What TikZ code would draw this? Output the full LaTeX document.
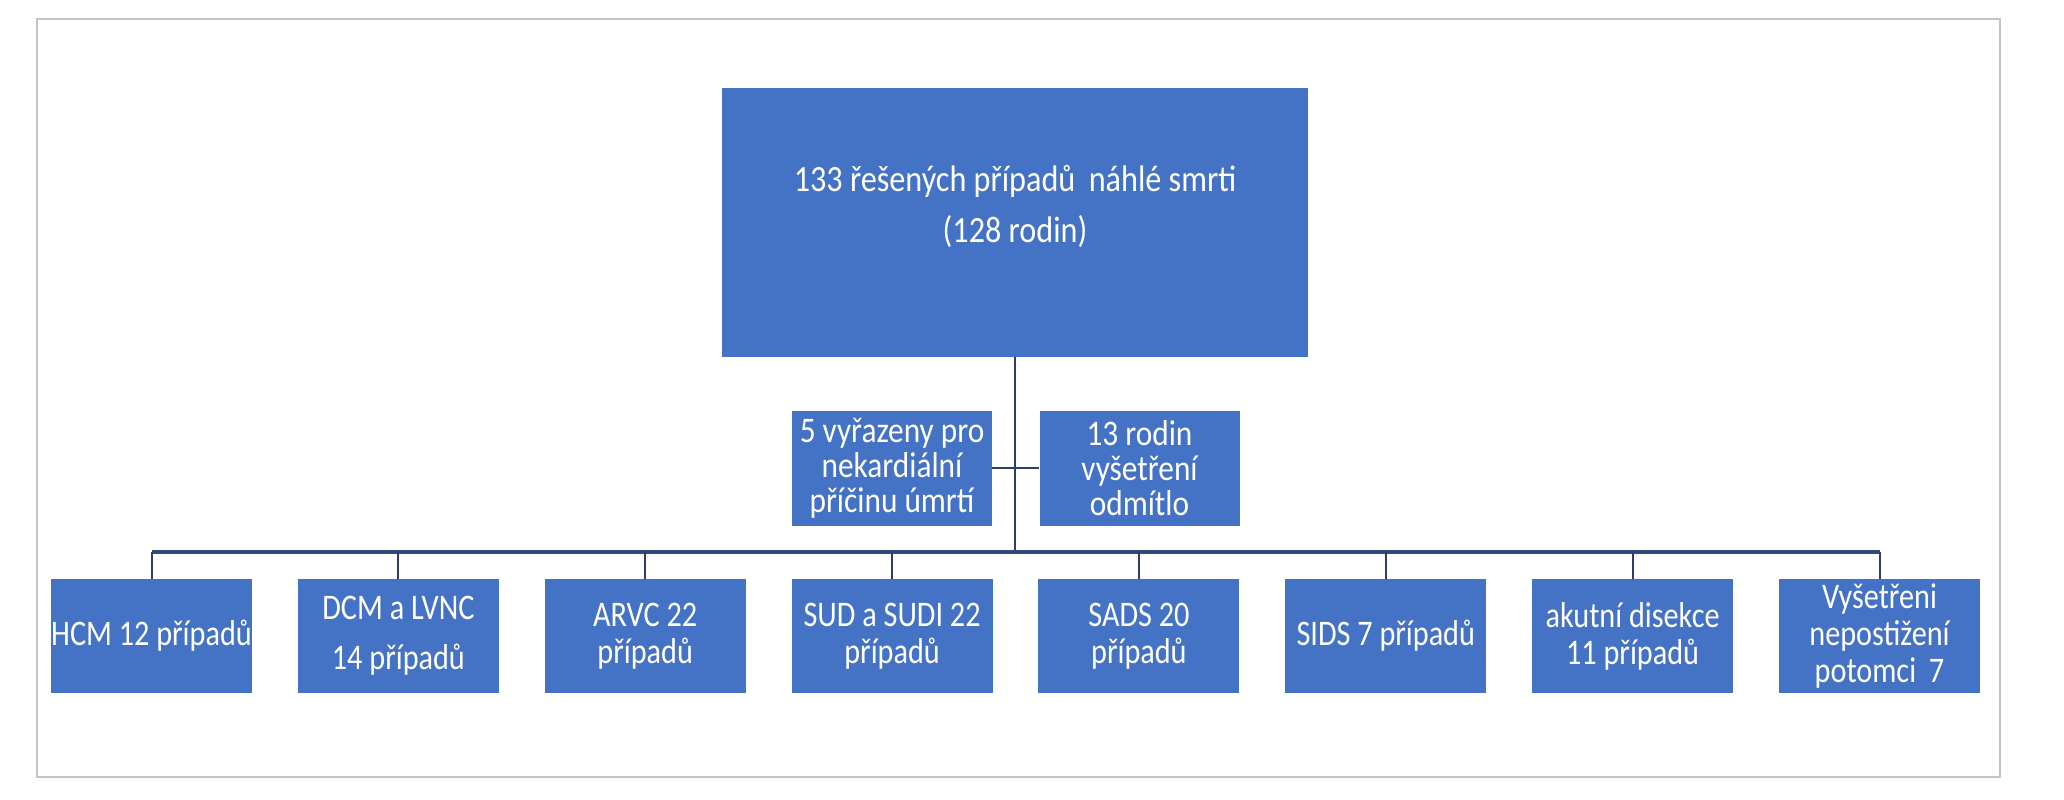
\documentclass[tikz,border=0pt]{standalone}
\usepackage{fontspec}
\setmainfont{Carlito}[FakeStretch=0.87]
\newfontfamily\leaffont{Carlito}[FakeStretch=0.84]
\definecolor{boxblue}{HTML}{4472C4}
\definecolor{linenavy}{HTML}{2E3F66}
\definecolor{busblue}{HTML}{34497A}
\definecolor{framegray}{HTML}{C4C4C4}
\begin{document}
\begin{tikzpicture}[x=1pt,y=-1pt,
  box/.style={fill=boxblue,text=white,inner sep=0pt,align=center},
  topbox/.style={box,minimum width=586pt,minimum height=269pt,font=\fontsize{37}{51}\selectfont,text depth=38pt},
  sidebox/.style={box,minimum width=200pt,minimum height=115pt,font=\fontsize{36}{35}\selectfont},
  leafbox/.style={box,minimum width=201pt,minimum height=114pt,font=\leaffont\fontsize{36}{37}\selectfont},
  conn/.style={draw=linenavy,line width=2pt},
  busline/.style={draw=busblue,line width=3.5pt}]
\useasboundingbox (0,0) rectangle (2064,800);
\fill[white] (0,0) rectangle (2064,800);
\draw[framegray,line width=1.5pt] (37,19) rectangle (2000,777);

\node[topbox] (top) at (1015,222.5) {133 řešených případů\, náhlé smrti\\(128 rodin)};

\node[sidebox] (ex) at (892,468) {5 vyřazeny pro\\nekardiální\\příčinu úmrtí};
\node[sidebox] (ref) at (1139.5,468) {13 rodin\\vyšetření\\odmítlo};

\node[leafbox] (b1) at (151.5,636) {HCM 12 případů};
\node[leafbox,font=\leaffont\fontsize{36}{50}\selectfont] (b2) at (398.4,636) {DCM a LVNC\\14 případů};
\node[leafbox] (b3) at (645.2,636) {ARVC 22\\případů};
\node[leafbox] (b4) at (892.1,636) {SUD a SUDI 22\\případů};
\node[leafbox] (b5) at (1138.9,636) {SADS 20\\případů};
\node[leafbox] (b6) at (1385.8,636) {SIDS 7 případů};
\node[leafbox] (b7) at (1632.6,636) {akutní disekce\\11 případů};
\node[leafbox] (b8) at (1879.5,636) {Vyšetřeni\\nepostižení\\potomci\, 7};

\coordinate (busL) at (151.5,552);
\coordinate (busR) at (1879.5,552);

\draw[conn] (top.south) -- (top.south |- busL);
\draw[conn] (ex.east) -- (ref.west);
\draw[busline] (busL) -- (busR);
\foreach \b in {b1,b2,b3,b4,b5,b6,b7,b8}{
  \draw[conn] (\b.north |- busL) -- (\b.north);
}
\end{tikzpicture}
\end{document}
